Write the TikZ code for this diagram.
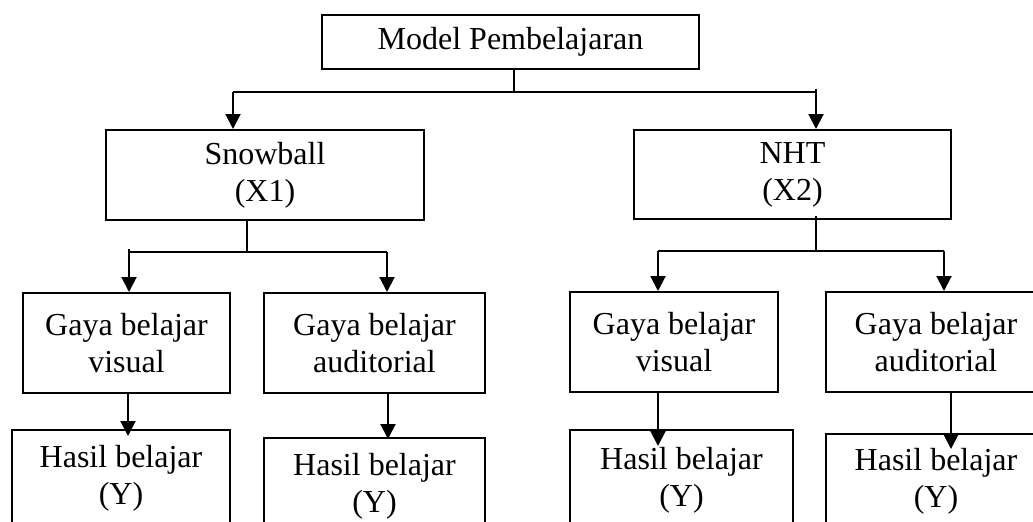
\documentclass[tikz,border=0pt]{standalone}
\usepackage{fontspec}
\setmainfont{Liberation Serif}
\usepackage{tikz}
\usetikzlibrary{arrows.meta}
\usetikzlibrary{positioning}

\begin{document}
\begin{tikzpicture}[x=0.5pt, y=-0.5pt, line width=1pt]
		\tikzstyle{box}=[rectangle, draw=black, inner sep=0pt, align=center, font=\fontsize{16}{18.5}\selectfont]
		\tikzstyle{connect}=[-{Triangle[width=7.5pt, length=7.5pt]}]
		\useasboundingbox (0,0) rectangle (1033,521);
		\clip (0,0) rectangle (1033,521);
		\node[box, minimum width=188.5pt, minimum height=27pt] (model) at (510.5,42) {Model Pembelajaran};
		\node[box, minimum width=159pt, minimum height=45pt] (snow) at (265,175) {Snowball\\(X1)};
		\node[box, minimum width=158.5pt, minimum height=44.5pt] (nht) at (792.5,174.5) {NHT\\(X2)};
		\node[box, minimum width=103.5pt, minimum height=50pt] (gv1) at (126.5,343) {Gaya belajar\\visual};
		\node[box, minimum width=110.5pt, minimum height=50pt] (ga1) at (374.5,343) {Gaya belajar\\auditorial};
		\node[box, minimum width=104pt, minimum height=50pt] (gv2) at (674,342) {Gaya belajar\\visual};
		\node[box, minimum width=110pt, minimum height=50pt] (ga2) at (936,342) {Gaya belajar\\auditorial};
		\node[box, minimum width=109pt, minimum height=48.5pt] (hv1) at (121,478.5) {Hasil belajar\\(Y)};
		\node[box, minimum width=110.5pt, minimum height=48pt] (ha1) at (374.5,486) {Hasil belajar\\(Y)};
		\node[box, minimum width=111.5pt, minimum height=50pt] (hv2) at (681.5,480) {Hasil belajar\\(Y)};
		\node[box, minimum width=110pt, minimum height=47pt] (ha2) at (936,481) {Hasil belajar\\(Y)};
		% cabang model
		\coordinate (j0) at (514,92);
		\coordinate (j0l) at (233,92);
		\coordinate (j0r) at (816,92);
		\draw (model.south -| j0) -- (j0);
		\draw (j0l) -- (j0r);
		\draw[connect] (j0l) -- (j0l |- snow.north);
		\draw[connect] ([yshift=1.5pt]j0r) -- (j0r |- nht.north);
		% cabang snowball
		\coordinate (j1) at (247,252);
		\coordinate (j1l) at (129,252);
		\coordinate (j1r) at (387,252);
		\draw (snow.south -| j1) -- (j1);
		\draw (j1l) -- (j1r);
		\draw[connect] ([yshift=1.5pt]j1l) -- (j1l |- gv1.north);
		\draw[connect] (j1r) -- (j1r |- ga1.north);
		% cabang nht
		\coordinate (j2) at (816,251);
		\coordinate (j2l) at (658,251);
		\coordinate (j2r) at (944,251);
		\draw ([yshift=2pt]nht.south -| j2) -- (j2);
		\draw (j2l) -- (j2r);
		\draw[connect] (j2l) -- (j2l |- gv2.north);
		\draw[connect] (j2r) -- (j2r |- ga2.north);
		% ke hasil belajar
		\draw[connect, shorten >=-3.5pt] ([xshift=0.75pt]gv1.south) -- ([xshift=0.75pt]gv1.south |- hv1.north);
		\draw[connect, shorten >=-1pt] ([xshift=6.75pt]ga1.south) -- ([xshift=6.75pt]ga1.south |- ha1.north);
		\draw[connect, shorten >=-8.5pt] (j2l |- gv2.south) -- (j2l |- hv2.north);
		\draw[connect, shorten >=-8pt] ([xshift=7.5pt]ga2.south) -- ([xshift=7.5pt]ga2.south |- ha2.north);
	\end{tikzpicture}
\end{document}
